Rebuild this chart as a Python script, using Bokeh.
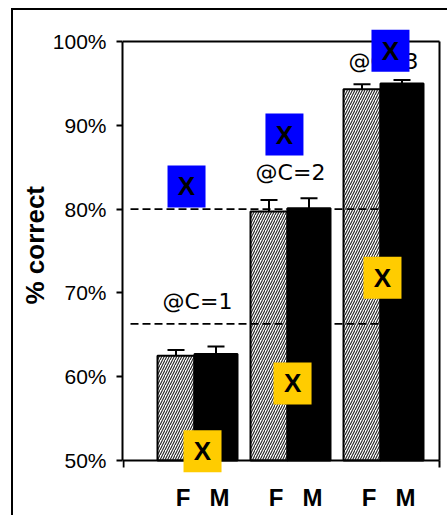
from bokeh.plotting import figure
from bokeh.models import (Range1d, FixedTicker, PrintfTickFormatter, Whisker, TeeHead,
                          ColumnDataSource, BoxAnnotation, Label, Title)
from bokeh.core.properties import value
from bokeh.embed import file_html
from bokeh.resources import INLINE

# accuracy per condition for female (F) and male (M) speakers
conditions = ["@C=1", "@C=2", "@C=3"]
female_pct = [62.5, 79.7, 94.3]
male_pct = [62.7, 80.1, 95.0]
female_err = [0.7, 1.4, 0.6]
male_err = [0.9, 1.2, 0.4]
speaker_labels = ["F", "M"]
reference_levels = [66.3, 80.0]
y_ticks = [50, 60, 70, 80, 90, 100]

# overlay markers, centres in data coordinates
blue_marks_x = [-0.118, 0.935, 2.075]
blue_marks_y = [82.7, 88.9, 98.9]
gold_marks_x = [0.054, 1.022, 1.989]
gold_marks_y = [51.1, 59.2, 71.8]

# layout: one group = 93 px, 1 % = 419/50 px
GX = 93.0
GY = 419.0 / 50.0
Y_LO, Y_HI = 50, 100
FONT = "Liberation Sans"
idx = list(range(len(conditions)))
x_left = -75 / GX          # left edge of the plotting area
x_right = 242 / GX         # right border line

p = figure(width=447, height=515, output_backend="svg", toolbar_location=None,
           x_range=Range1d(x_left, 244 / GX),
           y_range=Range1d(Y_LO - 55 / GY, Y_HI + 41 / GY),
           min_border_left=122, min_border_right=6, min_border_top=0, min_border_bottom=0,
           background_fill_color=None, border_fill_color=None)
p.grid.visible = False
p.outline_line_color = None
# outer chart border (left and top edges)
p.styles = {"box-shadow": "inset 11px 8px 0 0 white, inset 13px 10px 0 0 black",
            "background-color": "white"}

# plot box: top and right edges
p.segment(x0=[x_left, x_right], y0=[Y_HI, Y_LO], x1=[x_right, x_right], y1=[Y_HI, Y_HI],
          line_color="black", line_width=2)

# bars
f_left = [i - 40 / GX for i in idx]
f_right = [i - 3 / GX for i in idx]
m_left = f_right
m_right = [i + 40 / GX for i in idx]
p.quad(left=f_left, right=f_right, bottom=Y_LO, top=female_pct,
       fill_color="white", hatch_pattern="/", hatch_color="#222222",
       hatch_scale=5, hatch_weight=1.1, line_color="black", line_width=2)
p.quad(left=m_left, right=m_right, bottom=Y_LO, top=male_pct,
       fill_color="black", line_color="black", line_width=2)

# reference levels
p.segment(x0=-67 / GX, x1=1 + 88 / GX, y0=reference_levels, y1=reference_levels,
          line_color="black", line_width=1.6, line_dash="8 4")

# error bars
f_mid = [(a + b) / 2 for a, b in zip(f_left, f_right)]
m_mid = [(a + b) / 2 for a, b in zip(m_left, m_right)]
err_src = ColumnDataSource(dict(
    base=f_mid + m_mid,
    upper=[v + e for v, e in zip(female_pct, female_err)] + [v + e for v, e in zip(male_pct, male_err)],
    lower=[v - e for v, e in zip(female_pct, female_err)] + [v - e for v, e in zip(male_pct, male_err)],
))
p.add_layout(Whisker(base="base", upper="upper", lower="lower", source=err_src,
                     dimension="height", line_color="black", line_width=2,
                     upper_head=TeeHead(size=17, line_width=2, line_color="black"),
                     lower_head=TeeHead(size=17, line_width=2, line_color="black")))

# condition labels
p.text(x=idx, y=[69.0, 84.4, 97.6], text=conditions, text_align="center",
       text_baseline="middle", text_font=value("DejaVu Sans"), text_font_size="22px",
       text_color="black")

# y axis
p.yaxis.bounds = (Y_LO, Y_HI)
p.yaxis.ticker = FixedTicker(ticks=y_ticks)
p.yaxis.formatter = PrintfTickFormatter(format="%d%%")
p.yaxis.major_tick_out = 6
p.yaxis.major_tick_in = 0
p.yaxis.major_tick_line_width = 2
p.yaxis.minor_tick_line_color = None
p.yaxis.axis_line_width = 2
p.yaxis.major_label_text_font = FONT
p.yaxis.major_label_text_font_size = "21px"
p.yaxis.major_label_text_color = "black"
p.yaxis.major_label_standoff = 10

# y axis title, starting from the bottom of the panel
p.add_layout(Title(text="% correct", align="left", offset=211, standoff=0,
                   text_font=FONT, text_font_size="26px", text_font_style="bold",
                   text_color="black"), "left")

# x axis: baseline at 50 %, speaker labels under each group, end ticks
tick_pos, tick_txt = [], []
for i in idx:
    for lab, off in zip(speaker_labels, (-14.5, 22.0)):
        tick_pos.append(round(i + off / GX, 4))
        tick_txt.append(lab)
p.xaxis.fixed_location = Y_LO
p.xaxis.bounds = (x_left, x_right)
p.xaxis.ticker = FixedTicker(ticks=tick_pos, minor_ticks=[x_left + 1 / GX, x_right])
p.xaxis.major_label_overrides = {t: s for t, s in zip(tick_pos, tick_txt)}
p.xaxis.major_tick_line_color = None
p.xaxis.major_tick_out = 0
p.xaxis.major_tick_in = 0
p.xaxis.major_label_standoff = 16
p.xaxis.major_label_text_font = FONT
p.xaxis.major_label_text_font_size = "24px"
p.xaxis.major_label_text_font_style = "bold"
p.xaxis.major_label_text_color = "black"
p.xaxis.minor_tick_line_color = "black"
p.xaxis.minor_tick_line_width = 2
p.xaxis.minor_tick_out = 7
p.xaxis.minor_tick_in = 0
p.xaxis.axis_line_width = 2

# overlay markers
hw, hh = 19 / GX, 21 / GY
for xs, ys, col in ((blue_marks_x, blue_marks_y, "#0000ff"), (gold_marks_x, gold_marks_y, "#ffcc00")):
    for cx, cy in zip(xs, ys):
        p.add_layout(BoxAnnotation(left=cx - hw, right=cx + hw, bottom=cy - hh, top=cy + hh,
                                   fill_color=col, fill_alpha=1, line_color=None))
        p.add_layout(Label(x=cx, y=cy, text="X", text_align="center", text_baseline="middle",
                           text_font=FONT, text_font_size="26px", text_font_style="bold",
                           text_color="black"))

open("out.html", "w").write(file_html(p, INLINE))
